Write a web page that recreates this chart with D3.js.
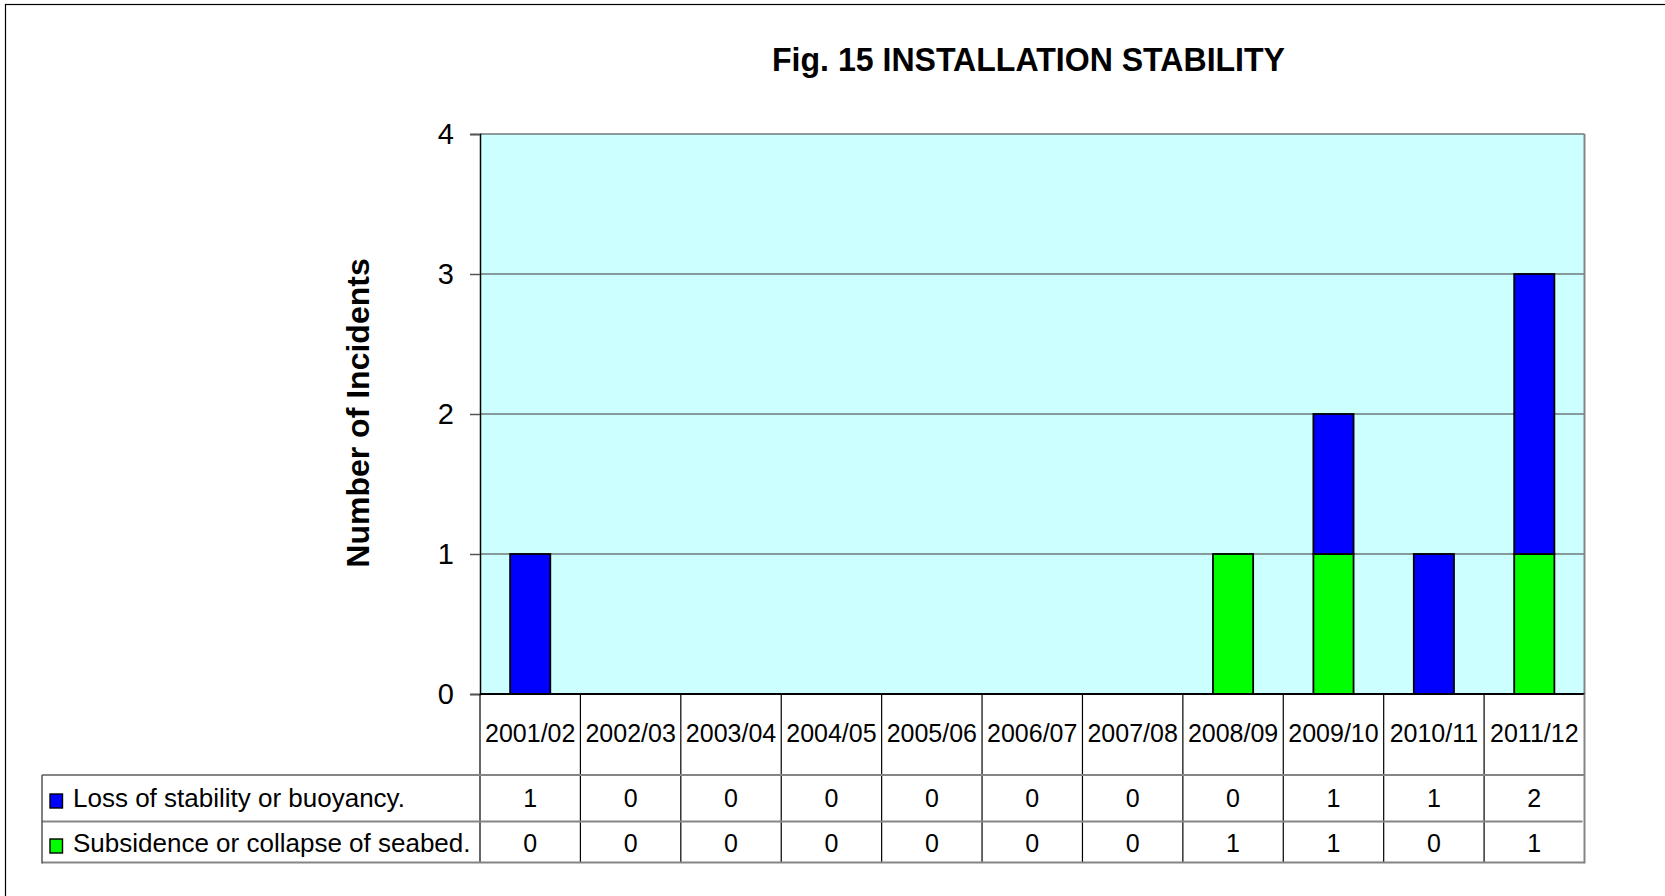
<!DOCTYPE html>
<html>
<head>
<meta charset="utf-8">
<script src="https://cdn.jsdelivr.net/npm/d3@7"></script>
<style>
  html, body { margin: 0; padding: 0; background: #fff; }
  svg { display: block; font-family: "Liberation Sans", Arial, sans-serif; }
</style>
</head>
<body>
<svg id="chart" width="1665" height="896"></svg>
<script>
// Incidents per reporting year, by cause
const categories = ["2001/02", "2002/03", "2003/04", "2004/05", "2005/06", "2006/07",
                    "2007/08", "2008/09", "2009/10", "2010/11", "2011/12"];
const lossValues = [1, 0, 0, 0, 0, 0, 0, 0, 1, 1, 2];
const subsidenceValues = [0, 0, 0, 0, 0, 0, 0, 1, 1, 0, 1];
const seriesNames = ["Loss of stability or buoyancy.", "Subsidence or collapse of seabed."];
const seriesColors = ["#0000ff", "#00ff00"];
const yTicks = [0, 1, 2, 3, 4];
const titleText = "Fig. 15 INSTALLATION STABILITY";
const yTitle = "Number of Incidents";

const svg = d3.select("#chart");

const plot = { left: 480, right: 1584.5, top: 134, bottom: 694 };
const table = { left: 42, headerBottom: 775, row1Bottom: 821.5, bottom: 862.5 };

// Outer frame (only its left and top edges fall inside the page)
svg.append("rect")
  .attr("x", 5.5).attr("y", 4.5)
  .attr("width", 1700).attr("height", 950)
  .attr("fill", "none").attr("stroke", "#000").attr("stroke-width", 1.2);

// Title
svg.append("text")
  .attr("x", 1028.5).attr("y", 71)
  .attr("text-anchor", "middle")
  .attr("font-weight", "bold")
  .attr("font-size", 34)
  .attr("textLength", 513)
  .attr("lengthAdjust", "spacingAndGlyphs")
  .text(titleText);

const rows = categories.map((c, i) => ({ cat: c, loss: lossValues[i], subsidence: subsidenceValues[i] }));

const x = d3.scaleBand()
  .domain(categories)
  .range([plot.left, plot.right])
  .paddingInner(0.6)
  .paddingOuter(0.3);

const y = d3.scaleLinear()
  .domain([0, 4])
  .range([plot.bottom, plot.top]);

// Plot background
svg.append("rect")
  .attr("x", plot.left).attr("y", plot.top)
  .attr("width", plot.right - plot.left).attr("height", plot.bottom - plot.top)
  .attr("fill", "#ccffff");

// Gridlines
svg.append("g")
  .selectAll("line")
  .data(yTicks.filter(t => t > 0))
  .join("line")
  .attr("x1", plot.left).attr("x2", plot.right)
  .attr("y1", d => y(d)).attr("y2", d => y(d))
  .attr("stroke", "#6f7878").attr("stroke-width", 1.6);

// Right border of the plot area
svg.append("line")
  .attr("x1", plot.right).attr("x2", plot.right)
  .attr("y1", plot.top).attr("y2", plot.bottom)
  .attr("stroke", "#858585").attr("stroke-width", 2);

// Stacked bars: subsidence at the base, loss on top
const stack = d3.stack().keys(["subsidence", "loss"]);
const layers = stack(rows);
const layerColor = { subsidence: seriesColors[1], loss: seriesColors[0] };

svg.append("g")
  .selectAll("g")
  .data(layers)
  .join("g")
  .attr("fill", d => layerColor[d.key])
  .selectAll("rect")
  .data(d => d.filter(p => p[1] > p[0]))
  .join("rect")
  .attr("x", d => x(d.data.cat))
  .attr("width", x.bandwidth())
  .attr("y", d => y(d[1]))
  .attr("height", d => y(d[0]) - y(d[1]))
  .attr("stroke", "#000")
  .attr("stroke-width", 1.8);

// Y axis
const yAxis = svg.append("g")
  .attr("transform", `translate(${plot.left},0)`)
  .call(d3.axisLeft(y).tickValues(yTicks).tickFormat(d3.format("d")).tickSize(10).tickPadding(16));
yAxis.select(".domain").attr("stroke", "#000").attr("stroke-width", 1.5);
yAxis.selectAll(".tick line").attr("stroke", "#555").attr("stroke-width", 1.5);
yAxis.selectAll(".tick text")
  .attr("font-size", 29)
  .attr("font-family", "\"Liberation Sans\", Arial, sans-serif")
  .attr("fill", "#000");

// Baseline of the plot
svg.append("line")
  .attr("x1", plot.left).attr("x2", plot.right)
  .attr("y1", plot.bottom).attr("y2", plot.bottom)
  .attr("stroke", "#000").attr("stroke-width", 2);

// Y axis title
svg.append("text")
  .attr("transform", `translate(358,413) rotate(-90)`)
  .attr("text-anchor", "middle")
  .attr("dominant-baseline", "central")
  .attr("font-weight", "bold")
  .attr("font-size", 32)
  .text(yTitle);

// Data table below the plot
const step = x.step();
const bounds = categories.map((c, i) => plot.left + i * step).concat([plot.right]);
const tableG = svg.append("g");

// Column separators
tableG.selectAll("line.col")
  .data(bounds.slice(0, -1))
  .join("line")
  .attr("class", "col")
  .attr("x1", d => d).attr("x2", d => d)
  .attr("y1", plot.bottom).attr("y2", table.bottom)
  .attr("stroke", "#000").attr("stroke-width", 1.2);

// Right edge
tableG.append("line")
  .attr("x1", plot.right).attr("x2", plot.right)
  .attr("y1", plot.bottom).attr("y2", table.bottom + 1)
  .attr("stroke", "#858585").attr("stroke-width", 2);

// Row lines
[[table.headerBottom, plot.right], [table.row1Bottom, plot.right - 2], [table.bottom, plot.right]].forEach(([yy, xe]) => {
  tableG.append("line")
    .attr("x1", table.left).attr("x2", xe)
    .attr("y1", yy).attr("y2", yy)
    .attr("stroke", "#858585").attr("stroke-width", 2);
});

// Left edge of the legend column
tableG.append("line")
  .attr("x1", table.left).attr("x2", table.left)
  .attr("y1", table.headerBottom).attr("y2", table.bottom + 1)
  .attr("stroke", "#555").attr("stroke-width", 1.5);

const centerX = c => x(c) + x.bandwidth() / 2;

// Category labels
tableG.selectAll("text.cat")
  .data(categories)
  .join("text")
  .attr("class", "cat")
  .attr("x", d => centerX(d))
  .attr("y", 742)
  .attr("text-anchor", "middle")
  .attr("font-size", 25)
  .text(d => d);

// Series rows
const seriesRows = [
  { name: seriesNames[0], color: seriesColors[0], values: lossValues, base: 807 },
  { name: seriesNames[1], color: seriesColors[1], values: subsidenceValues, base: 852 }
];

seriesRows.forEach(r => {
  tableG.append("rect")
    .attr("x", 50).attr("y", r.base - 13)
    .attr("width", 12.5).attr("height", 14)
    .attr("fill", r.color)
    .attr("stroke", "#000").attr("stroke-width", 1.4);
  tableG.append("text")
    .attr("x", 73).attr("y", r.base)
    .attr("font-size", 26)
    .text(r.name);
  tableG.selectAll(null)
    .data(r.values)
    .join("text")
    .attr("x", (d, i) => centerX(categories[i]))
    .attr("y", r.base)
    .attr("text-anchor", "middle")
    .attr("font-size", 25)
    .text(d => d);
});
</script>
</body>
</html>
